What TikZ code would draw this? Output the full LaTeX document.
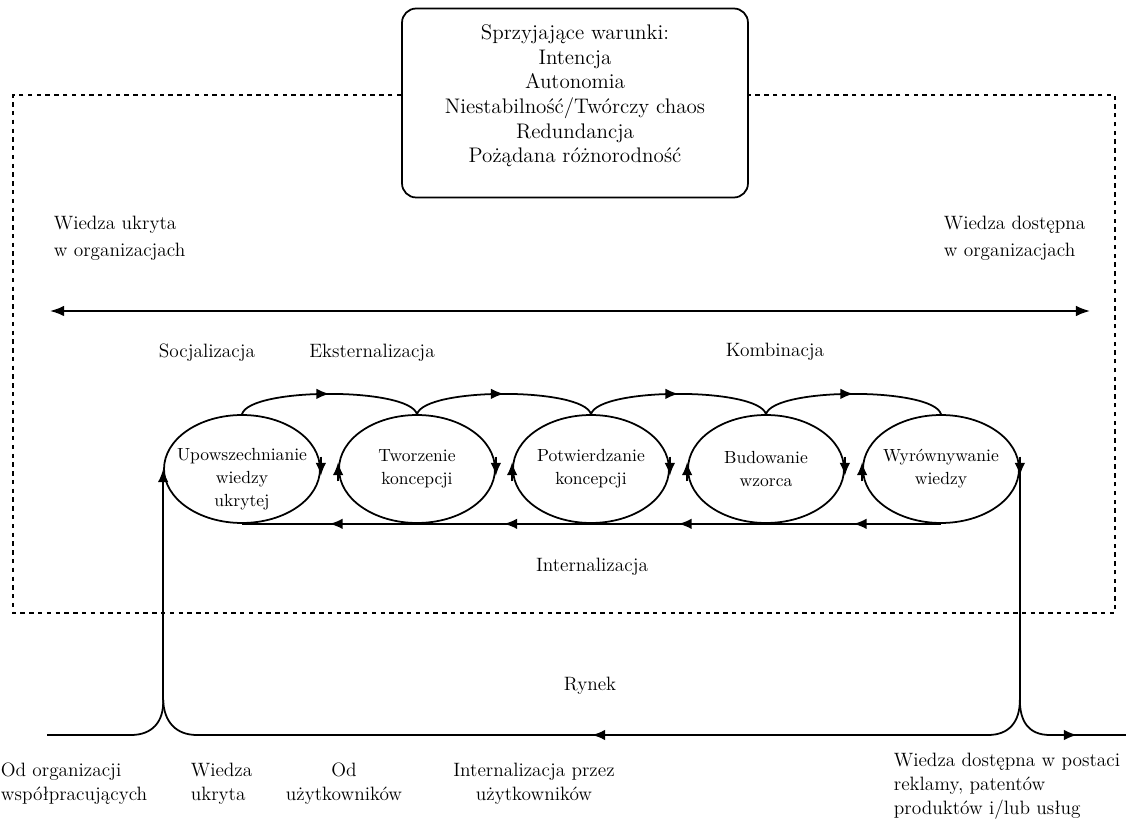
\documentclass[tikz,border=0pt]{standalone}
\usepackage{fontspec}
\usepackage{xcolor}
\usepackage{tikz}
\usetikzlibrary{shapes.geometric, arrows.meta, positioning, decorations.markings}

\begin{document}
\begin{tikzpicture}[x=0.02cm, y=-0.02cm, line width=1pt,
    faza/.style={ellipse, draw, minimum width=3.12cm, minimum height=2.16cm, inner sep=0pt},
    tekstfazy/.style={align=center, inner sep=0pt, font=\fontsize{10}{13}\selectfont},
    etykieta/.style={inner sep=0pt, font=\fontsize{11}{13.7}\selectfont},
    ramka/.style={dash pattern=on 2.5pt off 2.5pt, line width=0.9pt},
    grot/.style={-{Latex[length=7.5pt,width=6pt]}},
    srodek/.style={postaction={decorate}, decoration={markings, mark=at position #1 with {\arrow{Latex[length=7.5pt,width=6pt]}}}},
    srodek/.default=0.5]
    \useasboundingbox (0,0) rectangle (1126,820);

    \node[draw, rounded corners=8pt, minimum width=6.92cm, minimum height=3.78cm] (warunki) at (575,103) {};
    \node[align=center, inner sep=0pt, font=\fontsize{12}{14}\selectfont] (warunki-t) at ([yshift=4pt]warunki)
         {Sprzyjające warunki:\\Intencja\\Autonomia\\Niestabilność/Twórczy chaos\\Redundancja\\Pożądana różnorodność};

    \coordinate (ftl) at (13,95);
    \coordinate (fbr) at (1115,613);
    \draw[ramka] (warunki.west |- ftl) -- (ftl) -- (ftl |- fbr) -- (fbr) -- (fbr |- ftl) -- (warunki.east |- ftl);

    \node[etykieta, font=\fontsize{11}{15.5}\selectfont, anchor=west, align=left] (ukryta) at (53,238) {Wiedza ukryta\\w organizacjach};
    \node[etykieta, font=\fontsize{11}{15.5}\selectfont, anchor=west, align=left] (dostepna) at (943,238) {Wiedza dostępna\\w organizacjach};

    \coordinate (wl) at (50,311);
    \coordinate (wr) at (1090,311);
    \draw[{Latex[length=8pt,width=6pt]}-{Latex[length=8pt,width=6pt]}] (wl) -- (wr);

    \node[etykieta] (socjal) at (207,353) {Socjalizacja};
    \node[etykieta] (ekstern) at (372,353) {Eksternalizacja};
    \node[etykieta] (kombin) at (775,352) {Kombinacja};

    \node[faza] (upow) at (242,469) {};
    \node[faza] (tworz) at (417,469) {};
    \node[faza] (potw) at (591,469) {};
    \node[faza] (bud) at (766,469) {};
    \node[faza] (wyr) at (941,469) {};
    \node[tekstfazy] (upow-t) at ([yshift=-6pt]upow) {Upowszechnianie\\wiedzy\\ukrytej};
    \node[tekstfazy] (tworz-t) at (tworz) {Tworzenie\\koncepcji};
    \node[tekstfazy] (potw-t) at (potw) {Potwierdzanie\\koncepcji};
    \node[tekstfazy] (bud-t) at (bud) {Budowanie\\wzorca};
    \node[tekstfazy] (wyr-t) at (wyr) {Wyrównywanie\\wiedzy};

    \foreach \a/\b in {upow/tworz, tworz/potw, potw/bud, bud/wyr}
        \draw[srodek] (\a.north) .. controls +(8,-27) and +(-8,-27) .. (\b.north);
    \foreach \a/\b in {wyr/bud, bud/potw, potw/tworz, tworz/upow}
        \draw[srodek] (\a.south) -- (\b.south);
    \foreach \e in {upow, tworz, potw, bud, wyr}
        \draw[grot] ([yshift=7pt]\e.east) -- ([yshift=-4pt]\e.east);
    \foreach \e in {tworz, potw, bud, wyr}
        \draw[grot] ([yshift=-7pt]\e.west) -- ([yshift=4pt]\e.west);

    \node[etykieta] (intern) at (592,567) {Internalizacja};
    \node[etykieta] (rynek) at (590,686) {Rynek};

    \coordinate (rynekL) at (47,735);
    \coordinate (szczytL) at (upow.west |- 0,700);
    \coordinate (szczytR) at (wyr.east |- 0,700);
    \coordinate (rynekR) at (1126,735);
    \draw[grot] (szczytL) -- (upow.west);
    \draw (wyr.east) -- (szczytR);
    \draw (rynekL) -- (131,735) .. controls (152,735) and (164,722) .. (szczytL);
    \draw[srodek] (szczytR) .. controls +(0,22) and +(21,0) .. (988,735) -- (197,735) .. controls (176,735) and (164,722) .. (szczytL);
    \draw[srodek=0.62] (szczytR) .. controls +(0,22) and +(-21,0) .. (1050,735) -- (rynekR);

    \node[etykieta, anchor=north west, align=left] (odorg) at (0,762) {Od organizacji\\współpracujących};
    \node[etykieta, anchor=north west, align=left] (wukr) at (190,762) {Wiedza\\ukryta};
    \node[etykieta, anchor=north, align=center] (oduz) at (344,762) {Od\\użytkowników};
    \node[etykieta, anchor=north, align=center] (intuz) at (534,762) {Internalizacja przez\\użytkowników};
    \node[etykieta, anchor=north west, align=left] (reklama) at (893,752) {Wiedza dostępna w postaci\\reklamy, patentów\\produktów i/lub usług};
\end{tikzpicture}
\end{document}
